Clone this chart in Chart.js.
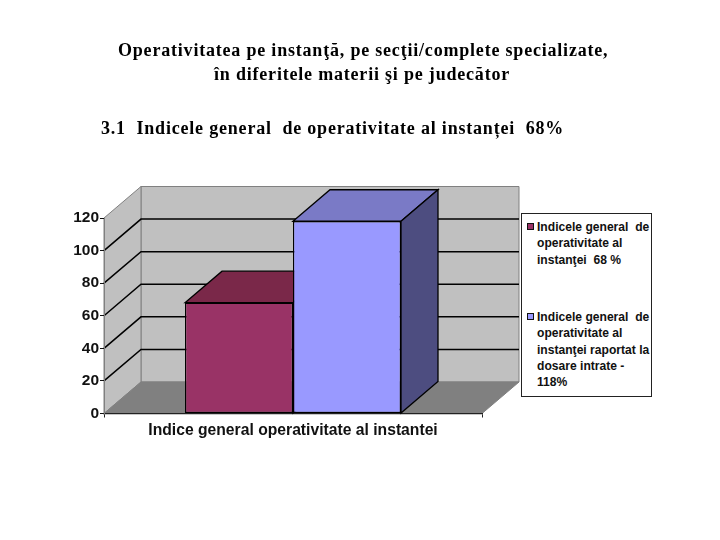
<!DOCTYPE html>
<html>
<head>
<meta charset="utf-8">
<script src="https://cdn.jsdelivr.net/npm/chart.js@4"></script>
<style>
  html, body { margin: 0; padding: 0; background: #fff; }
  #wrap { position: relative; width: 720px; height: 540px; overflow: hidden; }
  #chart { position: absolute; left: 0; top: 0; }
  .head { position: absolute; font: bold 18px "Liberation Serif", serif; letter-spacing: 0.8px; color: #000; white-space: pre; line-height: 24px; }
  #legend { position: absolute; left: 521px; top: 213px; width: 129px; height: 182px; border: 1px solid #222; background: #fff; }
  #legend .sw { position: absolute; left: 5px; width: 5px; height: 5px; border: 1px solid #111; }
  #legend .tx { position: absolute; left: 15px; font: bold 12.1px/16.3px "Liberation Sans", Arial, sans-serif; color: #111; white-space: pre; }
</style>
</head>
<body>
<div id="wrap">
  <canvas id="chart" width="720" height="540"></canvas>
  <div class="head" style="left:118px;top:38px">Operativitatea pe instanţă, pe secţii/complete specializate,</div>
  <div class="head" style="left:214px;top:62px">în diferitele materii şi pe judecător</div>
  <div class="head" style="left:101px;top:116px">3.1  Indicele general  de operativitate al instanței  68%</div>
  <div id="legend"></div>
</div>
<script>
var categories = ['Indice general operativitate al instantei'];
var seriesLabels = [
  ['Indicele general  de', 'operativitate al', 'instanţei  68 %'],
  ['Indicele general  de', 'operativitate al', 'instanţei raportat la', 'dosare intrate -', '118%']
];
var seriesValues = [[68], [118]];
var yTicks = [0, 20, 40, 60, 80, 100, 120];

var frontColors = ['#993366', '#9999FF'];
var topColors = ['#7A2849', '#7A7AC6'];
var sideColors = ['#5C1F3D', '#4D4D80'];
var legendTops = [9, 99];

// depth of the fake 3d box
var depthX = 37;
var depthY = -31.5;

function poly(ctx, pts, fill, stroke, lw) {
  ctx.beginPath();
  pts.forEach(function(p, i) {
    if (i == 0) ctx.moveTo(p[0], p[1]); else ctx.lineTo(p[0], p[1]);
  });
  ctx.closePath();
  ctx.fillStyle = fill;
  ctx.fill();
  ctx.strokeStyle = stroke;
  ctx.lineWidth = lw;
  ctx.stroke();
}

var box3d = {
  id: 'box3d',
  beforeDraw: function(chart) {
    var ctx = chart.ctx, a = chart.chartArea, y = chart.scales.y;
    var l = a.left, r = a.right, t = y.getPixelForValue(120), b = y.getPixelForValue(0);
    ctx.save();
    // back wall
    poly(ctx, [[l + depthX, t + depthY], [r + depthX, t + depthY], [r + depthX, b + depthY], [l + depthX, b + depthY]], '#C0C0C0', '#808080', 1);
    // side wall
    poly(ctx, [[l, t], [l + depthX, t + depthY], [l + depthX, b + depthY], [l, b]], '#C0C0C0', '#808080', 1);
    // floor
    poly(ctx, [[l, b], [l + depthX, b + depthY], [r + depthX, b + depthY], [r, b]], '#808080', '#808080', 1);
    // grid lines on the walls
    ctx.strokeStyle = '#000';
    ctx.lineWidth = 1.5;
    yTicks.forEach(function(v) {
      if (v == 0 || v == 120) return;
      var py = y.getPixelForValue(v);
      ctx.beginPath();
      ctx.moveTo(l, py);
      ctx.lineTo(l + depthX, py + depthY);
      ctx.lineTo(r + depthX, py + depthY);
      ctx.stroke();
    });
    ctx.restore();
  },
  beforeDatasetsDraw: function(chart) {
    var ctx = chart.ctx;
    ctx.save();
    chart.data.datasets.forEach(function(ds, i) {
      chart.getDatasetMeta(i).data.forEach(function(bar) {
        var p = bar.getProps(['x', 'y', 'base', 'width'], true);
        var x0 = p.x - p.width / 2, x1 = p.x + p.width / 2;
        poly(ctx, [[x0, p.y], [x0 + depthX, p.y + depthY], [x1 + depthX, p.y + depthY], [x1, p.y]], topColors[i], '#000', 1.3);
        poly(ctx, [[x1, p.y], [x1 + depthX, p.y + depthY], [x1 + depthX, p.base + depthY], [x1, p.base]], sideColors[i], '#000', 1.3);
      });
    });
    ctx.restore();
  }
};

var chart = new Chart(document.getElementById('chart'), {
  type: 'bar',
  data: {
    labels: categories,
    datasets: seriesValues.map(function(vals, i) {
      return {
        label: seriesLabels[i].join(' '),
        data: vals,
        backgroundColor: frontColors[i],
        borderColor: '#000',
        borderWidth: 1.3,
        borderSkipped: false,
        barPercentage: 1,
        categoryPercentage: 0.5714
      };
    })
  },
  options: {
    responsive: false,
    animation: false,
    layout: { padding: { top: 218, right: 238, bottom: 0, left: 0 } },
    plugins: { legend: { display: false }, title: { display: false }, tooltip: { enabled: false } },
    scales: {
      x: {
        afterFit: function(s) { s.height = 126.5; },
        border: { color: '#222', width: 1.3 },
        grid: { drawOnChartArea: false, tickLength: 4, tickColor: '#222', offset: true },
        ticks: { color: '#111', padding: 4, maxRotation: 0, font: { family: '"Liberation Sans"', size: 15.7, weight: 'bold' } }
      },
      y: {
        min: 0,
        max: 120,
        afterFit: function(s) { s.width = 104; },
        afterBuildTicks: function(s) { s.ticks = yTicks.map(function(v) { return { value: v }; }); },
        border: { color: '#808080', width: 1 },
        grid: { drawOnChartArea: false, tickLength: 4, tickColor: '#111' },
        ticks: { color: '#111', padding: 1, font: { family: '"Liberation Sans"', size: 15.5, weight: 'bold' } }
      }
    }
  },
  plugins: [box3d]
});

// legend in a box, the built in one cannot break lines
var legend = document.getElementById('legend');
seriesLabels.forEach(function(lines, i) {
  var sw = document.createElement('div');
  sw.className = 'sw';
  sw.style.top = legendTops[i] + 'px';
  sw.style.background = frontColors[i];
  legend.appendChild(sw);
  var tx = document.createElement('div');
  tx.className = 'tx';
  tx.style.top = (legendTops[i] - 4) + 'px';
  tx.textContent = lines.join('\n');
  legend.appendChild(tx);
});
</script>
</body>
</html>
